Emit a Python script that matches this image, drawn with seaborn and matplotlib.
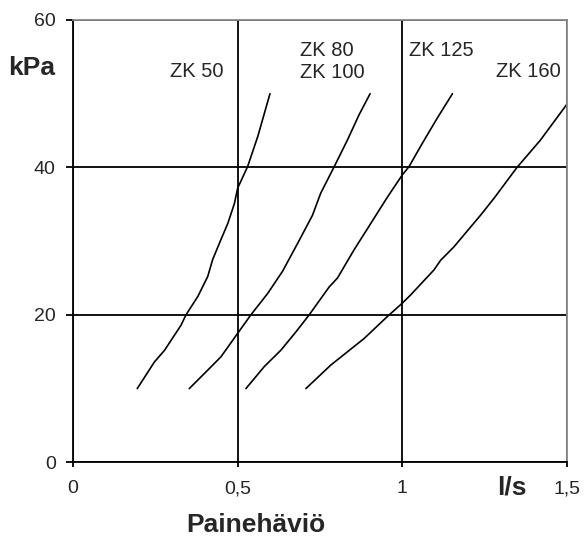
import pandas as pd
import matplotlib.pyplot as plt
import seaborn as sns

# === Values (flow l/s, pressure loss kPa) ===
zk50_x = [0.195, 0.247, 0.278, 0.328, 0.343, 0.379, 0.409, 0.424, 0.449, 0.470,
          0.490, 0.500, 0.530, 0.561, 0.598]
zk50_y = [10.0, 13.6, 15.2, 18.6, 20.0, 22.5, 25.2, 27.5, 30.2, 32.4,
          35.1, 37.2, 40.1, 44.2, 50.0]

zk80_x = [0.353, 0.409, 0.449, 0.500, 0.540, 0.591, 0.636, 0.682, 0.727, 0.752,
          0.793, 0.833, 0.868, 0.902]
zk80_y = [10.0, 12.5, 14.3, 17.5, 20.0, 22.9, 25.9, 29.7, 33.5, 36.5,
          40.1, 43.7, 47.1, 50.0]

zk125_x = [0.525, 0.581, 0.631, 0.677, 0.717, 0.778, 0.803, 0.853, 0.904, 0.955,
           1.000, 1.020, 1.061, 1.106, 1.152]
zk125_y = [10.0, 13.0, 15.2, 17.7, 20.0, 23.8, 25.0, 28.8, 32.4, 36.0,
           39.0, 40.1, 43.3, 46.7, 50.0]

zk160_x = [0.707, 0.783, 0.884, 0.955, 1.000, 1.025, 1.096, 1.116, 1.156, 1.237,
           1.278, 1.348, 1.419, 1.500]
zk160_y = [10.0, 13.2, 16.8, 19.8, 21.6, 22.7, 26.1, 27.4, 29.2, 33.5,
           35.8, 40.0, 43.7, 48.6]

x_ticks = [0, 0.5, 1, 1.5]
x_tick_labels = ["0", "0,5", "1", "1,5"]
y_ticks = [0, 20, 40, 60]

# === Long table for seaborn ===
df = pd.concat([
    pd.DataFrame({"malli": "ZK 50", "virtaus": zk50_x, "paine": zk50_y}),
    pd.DataFrame({"malli": "ZK 80", "virtaus": zk80_x, "paine": zk80_y}),
    pd.DataFrame({"malli": "ZK 125", "virtaus": zk125_x, "paine": zk125_y}),
    pd.DataFrame({"malli": "ZK 160", "virtaus": zk160_x, "paine": zk160_y}),
], ignore_index=True)

sns.set_style("white")
plt.rcParams["font.family"] = ["Liberation Sans", "DejaVu Sans"]
plt.rcParams["xtick.labelsize"] = 14
plt.rcParams["ytick.labelsize"] = 14

fig = plt.figure(figsize=(5.84, 5.36), dpi=100)
ax = fig.add_axes([0.125, 0.1375, 0.846, 0.8252])

sns.lineplot(data=df, x="virtaus", y="paine", units="malli", estimator=None,
             sort=False, color="black", lw=1.2, ax=ax)

ax.set_xlim(0, 1.5)
ax.set_ylim(0, 60)
ax.set_xticks(x_ticks, x_tick_labels, fontsize=14)
ax.set_yticks(y_ticks, [str(v) for v in y_ticks], fontsize=14)
ax.set_axisbelow(True)
ax.grid(True, color="black", lw=1.3)
ax.tick_params(axis="y", direction="out", length=5, width=1.3, pad=7.5,
               left=True, color="black")
ax.tick_params(axis="x", direction="out", length=3.6, width=1.3, pad=9.5,
               bottom=True, color="black")
for side in ["left", "bottom"]:
    ax.spines[side].set_color("black")
    ax.spines[side].set_linewidth(1.3)
for side in ["top", "right"]:
    ax.spines[side].set_color("#888888")
    ax.spines[side].set_linewidth(1.3)
ax.set_xlabel("")
ax.set_ylabel("")

# === Curve labels ===
ax.text(0.2945, 53.0, "ZK 50", fontsize=14.5, va="center", ha="left")
ax.text(0.689, 55.9, "ZK 80", fontsize=14.5, va="center", ha="left")
ax.text(0.689, 52.85, "ZK 100", fontsize=14.5, va="center", ha="left")
ax.text(1.021, 55.9, "ZK 125", fontsize=14.5, va="center", ha="left")
ax.text(1.284, 53.0, "ZK 160", fontsize=14.5, va="center", ha="left")

# === Unit and axis labels ===
ax.text(-0.083, 0.891, "kPa", transform=ax.transAxes, fontsize=19,
        fontweight="bold", ha="center", va="center")
ax.text(0.888, -0.056, "l/s", transform=ax.transAxes, fontsize=19,
        fontweight="bold", ha="center", va="center")
ax.text(0.370, -0.157, "Painehäviö", transform=ax.transAxes, fontsize=19,
        fontweight="bold", ha="center", va="baseline")

fig.savefig("out.png", dpi=100)
